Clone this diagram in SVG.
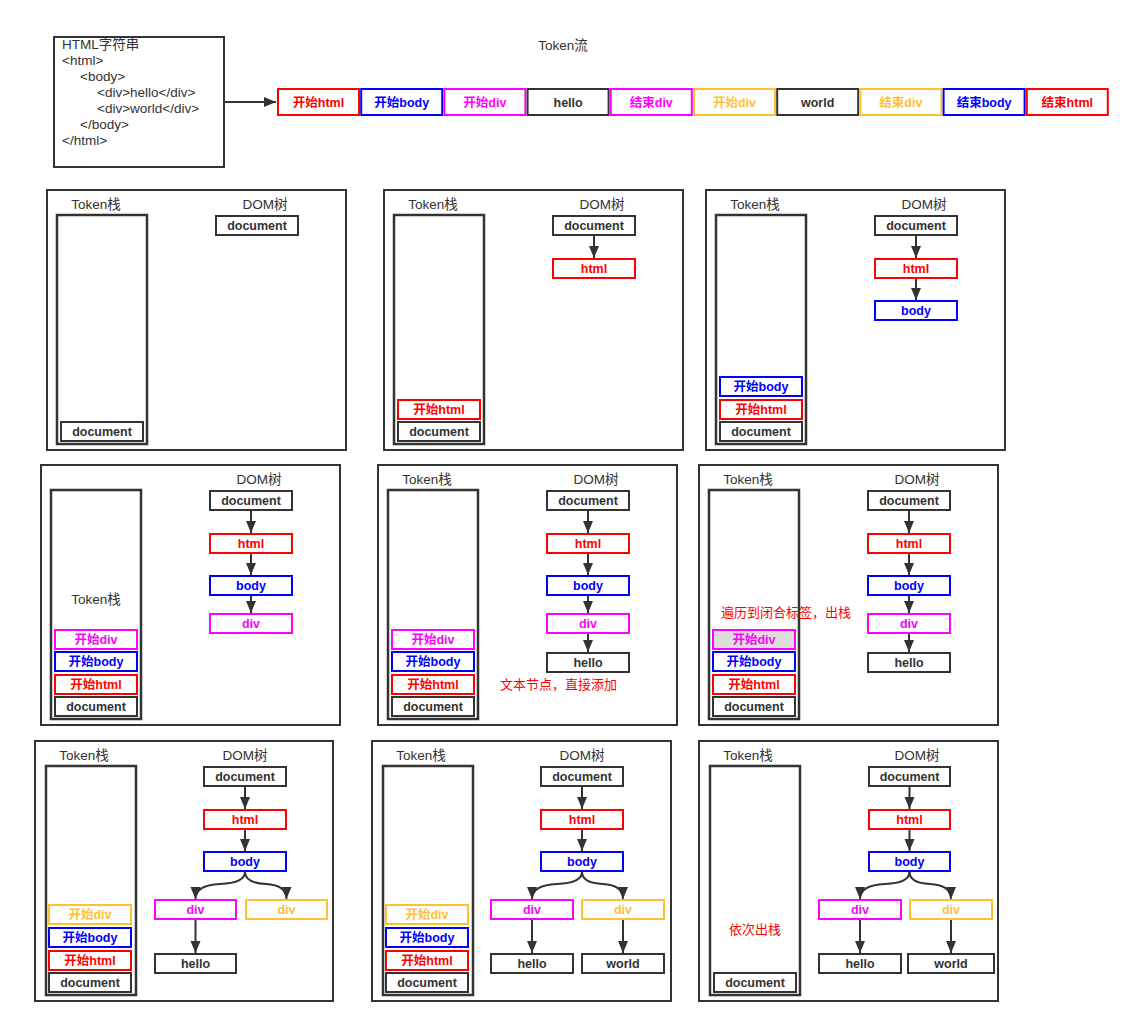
<svg xmlns="http://www.w3.org/2000/svg" width="1134" height="1026" viewBox="0 0 1134 1026">
<style>
text{font-family:"Liberation Sans","Noto Sans CJK SC",sans-serif;font-size:12.5px}
.lb{fill:#333;text-anchor:middle;font-size:13.5px}
.src{fill:#333;font-size:13.5px}
.t{font-weight:bold;text-anchor:middle}
.pn{fill:#fff;stroke:#333;stroke-width:2}
.stk{fill:#fff;stroke:#333;stroke-width:2.5}
.n{fill:#fff;stroke-width:2}
.k{stroke:#333}.r{stroke:#f00}.b{stroke:#00f}.m{stroke:#f0f}.o{stroke:#FFC033}
.tk{fill:#333}.tr{fill:#f00}.tb{fill:#00f}.tm{fill:#f0f}.to{fill:#FFC033}
.note{fill:#f00;font-size:13px}
.cn{fill:none;stroke:#333;stroke-width:2;marker-end:url(#ah)}
</style>
<defs>
<marker id="ah" markerUnits="userSpaceOnUse" markerWidth="13" markerHeight="11" refX="12" refY="5" orient="auto">
<path d="M0,0 L12,5 L0,10 z" fill="#333"/>
</marker>
</defs>
<rect width="1134" height="1026" fill="#fff"/>

<g id="html-source">
<rect x="54" y="37" width="170" height="130" fill="#fff" stroke="#333" stroke-width="2"/>
<text class="src" x="62" y="49">HTML字符串</text>
<text class="src" x="62" y="65">&lt;html&gt;</text>
<text class="src" x="80" y="81">&lt;body&gt;</text>
<text class="src" x="97" y="97">&lt;div&gt;hello&lt;/div&gt;</text>
<text class="src" x="97" y="113">&lt;div&gt;world&lt;/div&gt;</text>
<text class="src" x="80" y="129">&lt;/body&gt;</text>
<text class="src" x="62" y="145">&lt;/html&gt;</text>
</g>
<text class="lb" x="563" y="50">Token流</text>

<g id="token-stream">
<g id="tk1"><rect class="n r" x="278" y="89" width="81" height="26"/><text class="t tr" x="318.5" y="106.5">开始html</text></g>
<g id="tk2"><rect class="n b" x="361.2" y="89" width="81" height="26"/><text class="t tb" x="401.7" y="106.5">开始body</text></g>
<g id="tk3"><rect class="n m" x="444.4" y="89" width="81" height="26"/><text class="t tm" x="484.9" y="106.5">开始div</text></g>
<g id="tk4"><rect class="n k" x="527.6" y="89" width="81" height="26"/><text class="t tk" x="568.1" y="106.5">hello</text></g>
<g id="tk5"><rect class="n m" x="610.8" y="89" width="81" height="26"/><text class="t tm" x="651.3" y="106.5">结束div</text></g>
<g id="tk6"><rect class="n o" x="694" y="89" width="81" height="26"/><text class="t to" x="734.5" y="106.5">开始div</text></g>
<g id="tk7"><rect class="n k" x="777.2" y="89" width="81" height="26"/><text class="t tk" x="817.7" y="106.5">world</text></g>
<g id="tk8"><rect class="n o" x="860.4" y="89" width="81" height="26"/><text class="t to" x="900.9" y="106.5">结束div</text></g>
<g id="tk9"><rect class="n b" x="943.6" y="89" width="81" height="26"/><text class="t tb" x="984.1" y="106.5">结束body</text></g>
<g id="tk10"><rect class="n r" x="1026.8" y="89" width="81" height="26"/><text class="t tr" x="1067.3" y="106.5">结束html</text></g>
</g>

<g id="connectors-top">
<path class="cn" d="M225,102 L276,102"/>
</g>

<!-- Panel 1 -->
<g id="panel1" transform="translate(47,190)">
<rect class="pn" x="0" y="0" width="299" height="260"/>
<text class="lb" x="49" y="19">Token栈</text>
<text class="lb" x="218" y="19">DOM树</text>
<rect class="stk" x="10" y="25" width="90" height="229"/>
<g id="p1-s-doc"><rect class="n k" x="14" y="232" width="82" height="19"/><text class="t tk" x="55" y="245.5">document</text></g>
<g id="p1-d-doc"><rect class="n k" x="169" y="26" width="82" height="19"/><text class="t tk" x="210" y="39.5">document</text></g>
</g>

<!-- Panel 2 -->
<g id="panel2" transform="translate(384,190)">
<rect class="pn" x="0" y="0" width="299" height="260"/>
<text class="lb" x="49" y="19">Token栈</text>
<text class="lb" x="218" y="19">DOM树</text>
<rect class="stk" x="10" y="25" width="90" height="229"/>
<g id="p2-s-html"><rect class="n r" x="14" y="210" width="82" height="19"/><text class="t tr" x="55" y="223.5">开始html</text></g>
<g id="p2-s-doc"><rect class="n k" x="14" y="232" width="82" height="19"/><text class="t tk" x="55" y="245.5">document</text></g>
<g id="p2-d-doc"><rect class="n k" x="169" y="26" width="82" height="19"/><text class="t tk" x="210" y="39.5">document</text></g>
<g id="p2-d-html"><rect class="n r" x="169" y="69" width="82" height="19"/><text class="t tr" x="210" y="82.5">html</text></g>
<g id="p2-conn"><path class="cn" d="M210,46 L210,68"/></g>
</g>

<!-- Panel 3 -->
<g id="panel3" transform="translate(706,190)">
<rect class="pn" x="0" y="0" width="299" height="260"/>
<text class="lb" x="49" y="19">Token栈</text>
<text class="lb" x="218" y="19">DOM树</text>
<rect class="stk" x="10" y="25" width="90" height="229"/>
<g id="p3-s-body"><rect class="n b" x="14" y="187" width="82" height="19"/><text class="t tb" x="55" y="200.5">开始body</text></g>
<g id="p3-s-html"><rect class="n r" x="14" y="210" width="82" height="19"/><text class="t tr" x="55" y="223.5">开始html</text></g>
<g id="p3-s-doc"><rect class="n k" x="14" y="232" width="82" height="19"/><text class="t tk" x="55" y="245.5">document</text></g>
<g id="p3-d-doc"><rect class="n k" x="169" y="26" width="82" height="19"/><text class="t tk" x="210" y="39.5">document</text></g>
<g id="p3-d-html"><rect class="n r" x="169" y="69" width="82" height="19"/><text class="t tr" x="210" y="82.5">html</text></g>
<g id="p3-d-body"><rect class="n b" x="169" y="111" width="82" height="19"/><text class="t tb" x="210" y="124.5">body</text></g>
<g id="p3-conn"><path class="cn" d="M210,46 L210,68"/><path class="cn" d="M210,89 L210,110"/></g>
</g>

<!-- Panel 4 -->
<g id="panel4" transform="translate(41,465)">
<rect class="pn" x="0" y="0" width="299" height="260"/>
<text class="lb" x="218" y="19">DOM树</text>
<rect class="stk" x="10" y="25" width="90" height="229"/>
<text class="lb" x="55" y="139">Token栈</text>
<g id="p4-s-div"><rect class="n m" x="14" y="165" width="82" height="19"/><text class="t tm" x="55" y="178.5">开始div</text></g>
<g id="p4-s-body"><rect class="n b" x="14" y="187" width="82" height="19"/><text class="t tb" x="55" y="200.5">开始body</text></g>
<g id="p4-s-html"><rect class="n r" x="14" y="210" width="82" height="19"/><text class="t tr" x="55" y="223.5">开始html</text></g>
<g id="p4-s-doc"><rect class="n k" x="14" y="232" width="82" height="19"/><text class="t tk" x="55" y="245.5">document</text></g>
<g id="p4-d-doc"><rect class="n k" x="169" y="26" width="82" height="19"/><text class="t tk" x="210" y="39.5">document</text></g>
<g id="p4-d-html"><rect class="n r" x="169" y="69" width="82" height="19"/><text class="t tr" x="210" y="82.5">html</text></g>
<g id="p4-d-body"><rect class="n b" x="169" y="111" width="82" height="19"/><text class="t tb" x="210" y="124.5">body</text></g>
<g id="p4-d-div"><rect class="n m" x="169" y="149" width="82" height="19"/><text class="t tm" x="210" y="162.5">div</text></g>
<g id="p4-conn"><path class="cn" d="M210,46 L210,68"/><path class="cn" d="M210,89 L210,110"/><path class="cn" d="M210,131 L210,148"/></g>
</g>

<!-- Panel 5 -->
<g id="panel5" transform="translate(378,465)">
<rect class="pn" x="0" y="0" width="299" height="260"/>
<text class="lb" x="49" y="19">Token栈</text>
<text class="lb" x="218" y="19">DOM树</text>
<rect class="stk" x="10" y="25" width="90" height="229"/>
<g id="p5-s-div"><rect class="n m" x="14" y="165" width="82" height="19"/><text class="t tm" x="55" y="178.5">开始div</text></g>
<g id="p5-s-body"><rect class="n b" x="14" y="187" width="82" height="19"/><text class="t tb" x="55" y="200.5">开始body</text></g>
<g id="p5-s-html"><rect class="n r" x="14" y="210" width="82" height="19"/><text class="t tr" x="55" y="223.5">开始html</text></g>
<g id="p5-s-doc"><rect class="n k" x="14" y="232" width="82" height="19"/><text class="t tk" x="55" y="245.5">document</text></g>
<g id="p5-d-doc"><rect class="n k" x="169" y="26" width="82" height="19"/><text class="t tk" x="210" y="39.5">document</text></g>
<g id="p5-d-html"><rect class="n r" x="169" y="69" width="82" height="19"/><text class="t tr" x="210" y="82.5">html</text></g>
<g id="p5-d-body"><rect class="n b" x="169" y="111" width="82" height="19"/><text class="t tb" x="210" y="124.5">body</text></g>
<g id="p5-d-div"><rect class="n m" x="169" y="149" width="82" height="19"/><text class="t tm" x="210" y="162.5">div</text></g>
<g id="p5-d-hello"><rect class="n k" x="169" y="188" width="82" height="19"/><text class="t tk" x="210" y="201.5">hello</text></g>
<text class="note" x="122" y="224">文本节点，直接添加</text>
<g id="p5-conn"><path class="cn" d="M210,46 L210,68"/><path class="cn" d="M210,89 L210,110"/><path class="cn" d="M210,131 L210,148"/><path class="cn" d="M210,169 L210,187"/></g>
</g>

<!-- Panel 6 -->
<g id="panel6" transform="translate(699,465)">
<rect class="pn" x="0" y="0" width="299" height="260"/>
<text class="lb" x="49" y="19">Token栈</text>
<text class="lb" x="218" y="19">DOM树</text>
<rect class="stk" x="10" y="25" width="90" height="229"/>
<g id="p6-s-div"><rect class="n m" x="14" y="165" width="82" height="19" style="fill:#dddddd"/><text class="t tm" x="55" y="178.5">开始div</text></g>
<g id="p6-s-body"><rect class="n b" x="14" y="187" width="82" height="19"/><text class="t tb" x="55" y="200.5">开始body</text></g>
<g id="p6-s-html"><rect class="n r" x="14" y="210" width="82" height="19"/><text class="t tr" x="55" y="223.5">开始html</text></g>
<g id="p6-s-doc"><rect class="n k" x="14" y="232" width="82" height="19"/><text class="t tk" x="55" y="245.5">document</text></g>
<text class="note" x="22" y="152">遍历到闭合标签，出栈</text>
<g id="p6-d-doc"><rect class="n k" x="169" y="26" width="82" height="19"/><text class="t tk" x="210" y="39.5">document</text></g>
<g id="p6-d-html"><rect class="n r" x="169" y="69" width="82" height="19"/><text class="t tr" x="210" y="82.5">html</text></g>
<g id="p6-d-body"><rect class="n b" x="169" y="111" width="82" height="19"/><text class="t tb" x="210" y="124.5">body</text></g>
<g id="p6-d-div"><rect class="n m" x="169" y="149" width="82" height="19"/><text class="t tm" x="210" y="162.5">div</text></g>
<g id="p6-d-hello"><rect class="n k" x="169" y="188" width="82" height="19"/><text class="t tk" x="210" y="201.5">hello</text></g>
<g id="p6-conn"><path class="cn" d="M210,46 L210,68"/><path class="cn" d="M210,89 L210,110"/><path class="cn" d="M210,131 L210,148"/><path class="cn" d="M210,169 L210,187"/></g>
</g>

<!-- Panel 7 -->
<g id="panel7" transform="translate(35,741)">
<rect class="pn" x="0" y="0" width="298" height="260"/>
<text class="lb" x="49" y="19">Token栈</text>
<text class="lb" x="210" y="19">DOM树</text>
<rect class="stk" x="11" y="25" width="90" height="229"/>
<g id="p7-s-div"><rect class="n o" x="14" y="164" width="82" height="19"/><text class="t to" x="55" y="177.5">开始div</text></g>
<g id="p7-s-body"><rect class="n b" x="14" y="187" width="82" height="19"/><text class="t tb" x="55" y="200.5">开始body</text></g>
<g id="p7-s-html"><rect class="n r" x="14" y="210" width="82" height="19"/><text class="t tr" x="55" y="223.5">开始html</text></g>
<g id="p7-s-doc"><rect class="n k" x="14" y="232" width="82" height="19"/><text class="t tk" x="55" y="245.5">document</text></g>
<g id="p7-d-doc"><rect class="n k" x="169" y="26" width="82" height="19"/><text class="t tk" x="210" y="39.5">document</text></g>
<g id="p7-d-html"><rect class="n r" x="169" y="69" width="82" height="19"/><text class="t tr" x="210" y="82.5">html</text></g>
<g id="p7-d-body"><rect class="n b" x="169" y="111" width="82" height="19"/><text class="t tb" x="210" y="124.5">body</text></g>
<g id="p7-d-div1"><rect class="n m" x="120" y="159" width="81" height="19"/><text class="t tm" x="160.5" y="172.5">div</text></g>
<g id="p7-d-div2"><rect class="n o" x="211" y="159" width="81" height="19"/><text class="t to" x="251.5" y="172.5">div</text></g>
<g id="p7-d-hello"><rect class="n k" x="120" y="213" width="81" height="19"/><text class="t tk" x="160.5" y="226.5">hello</text></g>
<g id="p7-conn"><path class="cn" d="M210,46 L210,68"/><path class="cn" d="M210,89 L210,110"/><path class="cn" d="M210,131 Q210,142 185,143 Q160.5,144 160.5,158"/><path class="cn" d="M210,131 Q210,142 231,143 Q251.5,144 251.5,158"/><path class="cn" d="M160.5,179 L160.5,212"/></g>
</g>

<!-- Panel 8 -->
<g id="panel8" transform="translate(372,741)">
<rect class="pn" x="0" y="0" width="299" height="260"/>
<text class="lb" x="49" y="19">Token栈</text>
<text class="lb" x="210" y="19">DOM树</text>
<rect class="stk" x="11" y="25" width="90" height="229"/>
<g id="p8-s-div"><rect class="n o" x="14" y="164" width="82" height="19"/><text class="t to" x="55" y="177.5">开始div</text></g>
<g id="p8-s-body"><rect class="n b" x="14" y="187" width="82" height="19"/><text class="t tb" x="55" y="200.5">开始body</text></g>
<g id="p8-s-html"><rect class="n r" x="14" y="210" width="82" height="19"/><text class="t tr" x="55" y="223.5">开始html</text></g>
<g id="p8-s-doc"><rect class="n k" x="14" y="232" width="82" height="19"/><text class="t tk" x="55" y="245.5">document</text></g>
<g id="p8-d-doc"><rect class="n k" x="169" y="26" width="82" height="19"/><text class="t tk" x="210" y="39.5">document</text></g>
<g id="p8-d-html"><rect class="n r" x="169" y="69" width="82" height="19"/><text class="t tr" x="210" y="82.5">html</text></g>
<g id="p8-d-body"><rect class="n b" x="169" y="111" width="82" height="19"/><text class="t tb" x="210" y="124.5">body</text></g>
<g id="p8-d-div1"><rect class="n m" x="119" y="159" width="82" height="19"/><text class="t tm" x="160" y="172.5">div</text></g>
<g id="p8-d-div2"><rect class="n o" x="210" y="159" width="82" height="19"/><text class="t to" x="251" y="172.5">div</text></g>
<g id="p8-d-hello"><rect class="n k" x="119" y="213" width="82" height="19"/><text class="t tk" x="160" y="226.5">hello</text></g>
<g id="p8-d-world"><rect class="n k" x="210" y="213" width="82" height="19"/><text class="t tk" x="251" y="226.5">world</text></g>
<g id="p8-conn"><path class="cn" d="M210,46 L210,68"/><path class="cn" d="M210,89 L210,110"/><path class="cn" d="M210,131 Q210,142 185,143 Q160,144 160,158"/><path class="cn" d="M210,131 Q210,142 231,143 Q251,144 251,158"/><path class="cn" d="M160,179 L160,212"/><path class="cn" d="M251,179 L251,212"/></g>
</g>

<!-- Panel 9 -->
<g id="panel9" transform="translate(699,741)">
<rect class="pn" x="0" y="0" width="299" height="260"/>
<text class="lb" x="49" y="19">Token栈</text>
<text class="lb" x="218" y="19">DOM树</text>
<rect class="stk" x="11" y="25" width="90" height="229"/>
<text class="note" x="56" y="193" text-anchor="middle">依次出栈</text>
<g id="p9-s-doc"><rect class="n k" x="15" y="232" width="82" height="19"/><text class="t tk" x="56" y="245.5">document</text></g>
<g id="p9-d-doc"><rect class="n k" x="170" y="26" width="81" height="19"/><text class="t tk" x="210.5" y="39.5">document</text></g>
<g id="p9-d-html"><rect class="n r" x="170" y="69" width="81" height="19"/><text class="t tr" x="210.5" y="82.5">html</text></g>
<g id="p9-d-body"><rect class="n b" x="170" y="111" width="81" height="19"/><text class="t tb" x="210.5" y="124.5">body</text></g>
<g id="p9-d-div1"><rect class="n m" x="120" y="159" width="82" height="19"/><text class="t tm" x="161" y="172.5">div</text></g>
<g id="p9-d-div2"><rect class="n o" x="211" y="159" width="82" height="19"/><text class="t to" x="252" y="172.5">div</text></g>
<g id="p9-d-hello"><rect class="n k" x="120" y="213" width="82" height="19"/><text class="t tk" x="161" y="226.5">hello</text></g>
<g id="p9-d-world"><rect class="n k" x="209" y="213" width="86" height="19"/><text class="t tk" x="252" y="226.5">world</text></g>
<g id="p9-conn"><path class="cn" d="M210.5,46 L210.5,68"/><path class="cn" d="M210.5,89 L210.5,110"/><path class="cn" d="M210.5,131 Q210.5,142 186,143 Q161,144 161,158"/><path class="cn" d="M210.5,131 Q210.5,142 231,143 Q252,144 252,158"/><path class="cn" d="M161,179 L161,212"/><path class="cn" d="M252,179 L252,212"/></g>
</g>
</svg>
